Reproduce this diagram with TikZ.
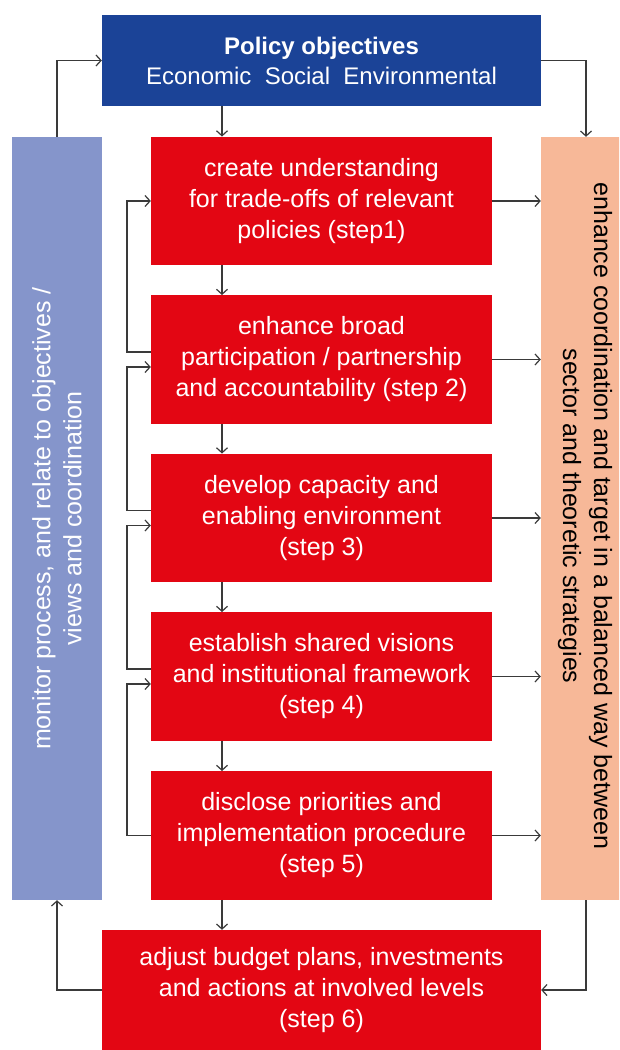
\documentclass[tikz,border=0pt]{standalone}
\usepackage{fontspec}
\setmainfont{Liberation Sans}
\usetikzlibrary{arrows.meta}
\definecolor{stepred}{HTML}{E30613}
\definecolor{polblue}{HTML}{1B4397}
\definecolor{monblue}{HTML}{8595CB}
\definecolor{peach}{HTML}{F7B898}
\definecolor{arrgray}{HTML}{3A3A3A}
\tikzset{
  box/.style={draw=none, inner sep=0pt, align=center, text=white,
    font=\fontsize{25}{31}\selectfont},
  stepbox/.style={box, fill=stepred, minimum width=341pt, minimum height=128.5pt},
  arr/.style={draw=arrgray, line width=1.2pt, -{Straight Barb[length=5pt,width=11pt,line width=1.2pt]}},
  sidetext/.style={inner sep=0pt, align=center, font=\fontsize{25}{31}\selectfont}
}
\begin{document}
\begin{tikzpicture}[x=1pt,y=-1pt]
\clip (0,0) rectangle (619,1050);
\fill[white] (0,0) rectangle (619,1050);
% side boxes
\node[box, fill=monblue, minimum width=90pt, minimum height=763pt] (L) at (57,518.5) {};
\node[sidetext, rotate=90, text=white] (Lt) at (L.center) {monitor process, and relate to objectives /\\views and coordination};
\node[box, fill=peach, minimum width=90pt, minimum height=763pt] (R) at (586,518.5) {};
\node[sidetext, rotate=-90, text=black] (Rt) at (585,516) {enhance coordination and target in a balanced way between\\sector and theoretic strategies};
% policy
\node[box, fill=polblue, minimum width=439pt, minimum height=91pt, font=\fontsize{24}{30}\selectfont] (P) at (321.5,60.5)
  {\textbf{Policy objectives}\\Economic\ \ Social\ \ Environmental};
% steps
\node[stepbox] (s1) at (321.5,201) {create understanding\\for trade-offs of relevant\\policies (step1)};
\node[stepbox] (s2) at (321.5,359.5) {enhance broad\\participation / partnership\\and accountability (step 2)};
\node[stepbox] (s3) at (321.5,518) {develop capacity and\\enabling environment\\(step 3)};
\node[stepbox] (s4) at (321.5,676.5) {establish shared visions\\and institutional framework\\(step 4)};
\node[stepbox] (s5) at (321.5,835.5) {disclose priorities and\\implementation procedure\\(step 5)};
\node[stepbox, minimum width=439pt, minimum height=120pt] (s6) at (321.5,990) {adjust budget plans, investments\\and actions at involved levels\\(step 6)};
% vertical axis for down arrows
\coordinate (ax) at (222,0);
\coordinate (lx) at (127,0);
\draw[arr] (P.south -| ax) -- (s1.north -| ax);
\draw[arr] (s1.south -| ax) -- (s2.north -| ax);
\draw[arr] (s2.south -| ax) -- (s3.north -| ax);
\draw[arr] (s3.south -| ax) -- (s4.north -| ax);
\draw[arr] (s4.south -| ax) -- (s5.north -| ax);
\draw[arr] (s5.south -| ax) -- (s6.north -| ax);
% entry/exit points on the left of the steps
\coordinate (o2) at ([yshift=7.5pt]s2.west);
\coordinate (o3) at ([yshift=7.5pt]s3.west);
\coordinate (o4) at ([yshift=7.5pt]s4.west);
\coordinate (i2) at ([yshift=-7.5pt]s2.west);
\coordinate (i3) at ([yshift=-7.5pt]s3.west);
\coordinate (i4) at ([yshift=-7.5pt]s4.west);
% left feedback loops
\draw[arr] (o2) -- (lx |- o2) -- (lx |- s1.west) -- (s1.west);
\draw[arr] (o3) -- (lx |- o3) -- (lx |- i2) -- (i2);
\draw[arr] (o4) -- (lx |- o4) -- (lx |- i3) -- (i3);
\draw[arr] (s5.west) -- (lx |- s5.west) -- (lx |- i4) -- (i4);
% right arrows
\draw[arr] (s1.east) -- (s1.east -| R.west);
\draw[arr] (s2.east) -- (s2.east -| R.west);
\draw[arr] (s3.east) -- (s3.east -| R.west);
\draw[arr] (s4.east) -- (s4.east -| R.west);
\draw[arr] (s5.east) -- (s5.east -| R.west);
% outer loop
\draw[arr] (L.north) |- (P.west);
\draw[arr] (P.east) -| (R.north);
\draw[arr] (s6.west) -| (L.south);
\draw[arr] (R.south) |- (s6.east);
\end{tikzpicture}
\end{document}
